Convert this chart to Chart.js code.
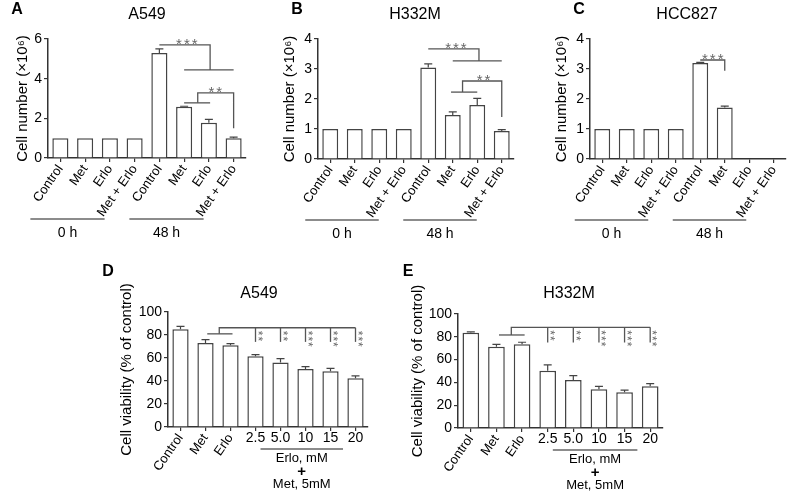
<!DOCTYPE html>
<html>
<head>
<meta charset="utf-8">
<script src="https://cdn.jsdelivr.net/npm/chart.js@4.4.1/dist/chart.umd.min.js"></script>
<style>
  body { margin: 0; background: #fff; }
  #wrap { position: relative; width: 792px; height: 496px; overflow: hidden; background: #fff; }
  canvas { position: absolute; }
</style>
</head>
<body>
<div id="wrap">
  <canvas id="chartA" width="262" height="250" style="left:0;top:0"></canvas>
  <canvas id="chartB" width="262" height="250" style="left:262px;top:0"></canvas>
  <canvas id="chartC" width="268" height="250" style="left:524px;top:0"></canvas>
  <canvas id="chartD" width="300" height="246" style="left:90px;top:250px"></canvas>
  <canvas id="chartE" width="300" height="246" style="left:390px;top:250px"></canvas>
</div>
<script>
// categories
const treatments = ['Control', 'Met', 'Erlo', 'Met + Erlo', 'Control', 'Met', 'Erlo', 'Met + Erlo'];
const timeGroups = ['0 h', '48 h'];
const doseCategories = ['Control', 'Met', 'Erlo', '2.5', '5.0', '10', '15', '20'];

// cell number (x10^6)
const a549Counts = [1, 1, 1, 1, 5.3, 2.58, 1.78, 1.0];
const a549CountErr = [0, 0, 0, 0, 0.2, 0.03, 0.17, 0.05];
const h332mCounts = [1, 1, 1, 1, 3.05, 1.47, 1.8, 0.93];
const h332mCountErr = [0, 0, 0, 0, 0.12, 0.1, 0.22, 0.05];
const hcc827Counts = [1, 1, 1, 1, 3.2, 1.72, null, null];
const hcc827CountErr = [0, 0, 0, 0, 0.02, 0.04, 0, 0];

// cell viability (% of control)
const a549Viability = [85, 73, 71, 61.5, 56, 50.5, 48.5, 42.5];
const a549ViabilityErr = [2.5, 3, 1.5, 1.5, 3.5, 2, 2.5, 2];
const h332mViability = [83.5, 71.3, 73.4, 50.3, 42, 34, 31.3, 36.6];
const h332mViabilityErr = [0.8, 2, 1.8, 5, 4, 2.6, 2, 2.3];
const doseStars = ['**', '**', '***', '***', '***'];

Chart.defaults.font.family = 'Arial, "Liberation Sans", sans-serif';
Chart.defaults.color = '#000';

const LINE = '#555';

function makeChart(id, cfg) {
  const extras = {
    id: 'extras' + id,
    afterDraw(chart) {
      const { ctx, chartArea } = chart;
      const x = chart.scales.x, y = chart.scales.y;
      const px = (i) => x.getPixelForValue(i);
      const py = (v) => y.getPixelForValue(v);
      ctx.save();

      // error bars
      ctx.strokeStyle = '#444';
      ctx.lineWidth = 1.2;
      chart.getDatasetMeta(0).data.forEach((bar, i) => {
        const v = cfg.values[i], e = cfg.errors[i];
        if (v == null || !e) return;
        const top = py(v + e);
        ctx.beginPath();
        ctx.moveTo(bar.x, bar.y);
        ctx.lineTo(bar.x, top);
        ctx.moveTo(bar.x - 4, top);
        ctx.lineTo(bar.x + 4, top);
        ctx.stroke();
      });

      // significance brackets
      ctx.strokeStyle = LINE;
      ctx.lineWidth = 1.3;
      (cfg.brackets || []).forEach(pts => {
        ctx.beginPath();
        pts.forEach((p, k) => {
          const X = px(p[0]), Y = py(p[1]);
          if (k === 0) ctx.moveTo(X, Y); else ctx.lineTo(X, Y);
        });
        ctx.stroke();
      });
      ctx.fillStyle = '#666';
      ctx.font = '15px Arial, "Liberation Sans", sans-serif';
      ctx.letterSpacing = '2px';
      ctx.textAlign = 'center';
      ctx.textBaseline = 'alphabetic';
      (cfg.stars || []).forEach(s => {
        ctx.fillText(s.text, px(s.x), py(s.y) + 4);
      });
      // vertical stars (dose panels)
      if (cfg.vstars) {
        ctx.font = '12px Arial, "Liberation Sans", sans-serif';
        ctx.letterSpacing = '1px';
        ctx.textAlign = 'left';
        ctx.textBaseline = 'middle';
        cfg.vstars.forEach((t, k) => {
          ctx.save();
          ctx.translate(px(3 + k) + 1.5, py(cfg.vstarsAt) + 3);
          ctx.rotate(Math.PI / 2);
          ctx.fillText(t, 0, 0);
          ctx.restore();
        });
      }
      ctx.letterSpacing = '0px';

      // title and panel letter
      ctx.fillStyle = '#000';
      ctx.textAlign = 'center';
      ctx.textBaseline = 'middle';
      ctx.font = '16px Arial, "Liberation Sans", sans-serif';
      ctx.fillText(cfg.title, cfg.titlePos[0], cfg.titlePos[1]);
      ctx.font = 'bold 16px Arial, "Liberation Sans", sans-serif';
      ctx.fillText(cfg.letter, cfg.letterPos[0], cfg.letterPos[1]);

      const bottom = chartArea.bottom;
      // time group lines (A-C)
      if (cfg.groups) {
        ctx.strokeStyle = '#666';
        ctx.lineWidth = 1.5;
        ctx.font = '14px Arial, "Liberation Sans", sans-serif';
        cfg.groups.forEach(g => {
          const x1 = px(g.from) - cfg.groupShift, x2 = px(g.to) - cfg.groupShift;
          ctx.beginPath();
          ctx.moveTo(x1, bottom + 61);
          ctx.lineTo(x2, bottom + 61);
          ctx.stroke();
          ctx.fillText(g.label, (x1 + x2) / 2, bottom + 75);
        });
      }

      // dose labels (D-E)
      if (cfg.doses) {
        ctx.font = '14px Arial, "Liberation Sans", sans-serif';
        for (let i = 3; i < doseCategories.length; i++) {
          ctx.fillText(doseCategories[i], px(i), bottom + 11);
        }
        const x1 = px(3.2), x2 = px(6.5), xc = (x1 + x2) / 2;
        ctx.strokeStyle = '#666';
        ctx.lineWidth = 1.5;
        ctx.beginPath();
        ctx.moveTo(x1, bottom + 22);
        ctx.lineTo(x2, bottom + 22);
        ctx.stroke();
        ctx.font = '13px Arial, "Liberation Sans", sans-serif';
        ctx.fillText('Erlo, mM', xc, bottom + 31);
        ctx.font = 'bold 15px Arial, "Liberation Sans", sans-serif';
        ctx.fillText('+', xc, bottom + 45);
        ctx.font = '13px Arial, "Liberation Sans", sans-serif';
        ctx.fillText('Met, 5mM', xc, bottom + 57);
      }
      ctx.restore();
    }
  };

  return new Chart(document.getElementById(id), {
    type: 'bar',
    data: {
      labels: cfg.labels,
      datasets: [{
        data: cfg.values,
        backgroundColor: '#fff',
        borderColor: '#444',
        borderWidth: 1.5,
        barPercentage: 0.65,
        categoryPercentage: 1
      }]
    },
    options: {
      responsive: false,
      animation: false,
      layout: { padding: { left: 0, right: cfg.padRight, top: cfg.padTop, bottom: cfg.padBottom } },
      plugins: { legend: { display: false }, tooltip: { enabled: false } },
      scales: {
        x: {
          ticks: {
            color: '#000',
            font: { size: 13 },
            minRotation: 55,
            maxRotation: 55,
            autoSkip: false,
            padding: 0,
            callback: (v, i) => cfg.tickLabel(i)
          },
          grid: { display: true, drawOnChartArea: false, offset: false, tickLength: 4, color: '#333', lineWidth: 1.2 },
          border: { display: true, color: '#333', width: 1.5 },
          afterFit(s) { s.height = cfg.xHeight; }
        },
        y: {
          min: 0,
          max: cfg.yMax,
          ticks: { stepSize: cfg.yStep, color: '#000', font: { size: 14 }, padding: 2 },
          grid: { display: true, drawOnChartArea: false, tickLength: 4, color: '#333', lineWidth: 1.2 },
          border: { display: true, color: '#333', width: 1.5 },
          title: {
            display: true,
            text: cfg.yTitle,
            color: '#000',
            font: { size: 15 },
            padding: { top: cfg.yTitlePad, bottom: 0 }
          },
          afterFit(s) { s.width = cfg.axisLeft; }
        }
      }
    },
    plugins: [extras]
  });
}

const countTitle = 'Cell number (\u00d710\u2076)';
const viabilityTitle = 'Cell viability (% of control)';
const timeSpans = [{ label: timeGroups[0], from: 0, to: 3 }, { label: timeGroups[1], from: 4, to: 7 }];
const treatmentTick = (i) => treatments[i];
const doseTick = (i) => (i < 3 ? doseCategories[i] : '');

makeChart('chartA', {
  labels: treatments, values: a549Counts, errors: a549CountErr, tickLabel: treatmentTick,
  yMax: 6, yStep: 2, yTitle: countTitle, yTitlePad: 14,
  axisLeft: 48, padRight: 16, padTop: 39, padBottom: 22, xHeight: 70,
  title: 'A549', titlePos: [147, 15], letter: 'A', letterPos: [17, 10],
  groups: timeSpans, groupShift: 30,
  brackets: [
    [[4, 5.7], [6.05, 5.7], [6.05, 4.44]],
    [[5, 4.44], [7, 4.44]],
    [[7, 1.5], [7, 3.28], [5.55, 3.28], [5.55, 2.78]],
    [[5, 2.78], [6.05, 2.78]]
  ],
  stars: [{ text: '***', x: 5.15, y: 5.7 }, { text: '**', x: 6.3, y: 3.28 }]
});

makeChart('chartB', {
  labels: treatments, values: h332mCounts, errors: h332mCountErr, tickLabel: treatmentTick,
  yMax: 4, yStep: 1, yTitle: countTitle, yTitlePad: 19,
  axisLeft: 56, padRight: 10, padTop: 39, padBottom: 21, xHeight: 70,
  title: 'H332M', titlePos: [153, 15], letter: 'B', letterPos: [35, 10],
  groups: timeSpans, groupShift: 25,
  brackets: [
    [[4, 3.67], [6.07, 3.67], [6.07, 3.27]],
    [[5, 3.27], [7, 3.27]],
    [[7, 1.4], [7, 2.6], [5.4, 2.6], [5.4, 2.23]],
    [[4.93, 2.23], [6, 2.23]]
  ],
  stars: [{ text: '***', x: 5.17, y: 3.67 }, { text: '**', x: 6.3, y: 2.6 }]
});

makeChart('chartC', {
  labels: treatments, values: hcc827Counts, errors: hcc827CountErr, tickLabel: treatmentTick,
  yMax: 4, yStep: 1, yTitle: countTitle, yTitlePad: 29,
  axisLeft: 66, padRight: 6, padTop: 39, padBottom: 21, xHeight: 70,
  title: 'HCC827', titlePos: [163, 15], letter: 'C', letterPos: [55, 10],
  groups: timeSpans, groupShift: 27.5,
  brackets: [[[4, 3.3], [5, 3.3], [5, 2.94]]],
  stars: [{ text: '***', x: 4.55, y: 3.3 }]
});

makeChart('chartD', {
  labels: doseCategories, values: a549Viability, errors: a549ViabilityErr, tickLabel: doseTick,
  yMax: 100, yStep: 20, yTitle: viabilityTitle, yTitlePad: 28,
  axisLeft: 78, padRight: 22, padTop: 62, padBottom: 9, xHeight: 60,
  title: 'A549', titlePos: [169, 44], letter: 'D', letterPos: [18, 22],
  doses: true,
  brackets: [
    [[1.55, 81], [1.55, 86.3], [7, 86.3]],
    [[1.07, 81], [2.08, 81]],
    [[3, 86.3], [3, 74]], [[4, 86.3], [4, 74]], [[5, 86.3], [5, 74]],
    [[6, 86.3], [6, 74]], [[7, 86.3], [7, 74]]
  ],
  vstars: doseStars, vstarsAt: 86.3
});

makeChart('chartE', {
  labels: doseCategories, values: h332mViability, errors: h332mViabilityErr, tickLabel: doseTick,
  yMax: 100, yStep: 20, yTitle: viabilityTitle, yTitlePad: 19,
  axisLeft: 68, padRight: 27, padTop: 64, padBottom: 8, xHeight: 60,
  title: 'H332M', titlePos: [179, 44], letter: 'E', letterPos: [18, 22],
  doses: true,
  brackets: [
    [[1.58, 81.6], [1.58, 88.3], [7, 88.3]],
    [[1.1, 81.6], [2.1, 81.6]],
    [[3, 88.3], [3, 75]], [[4, 88.3], [4, 75]], [[5, 88.3], [5, 75]],
    [[6, 88.3], [6, 75]], [[7, 88.3], [7, 75]]
  ],
  vstars: doseStars, vstarsAt: 88.3
});
</script>
</body>
</html>
